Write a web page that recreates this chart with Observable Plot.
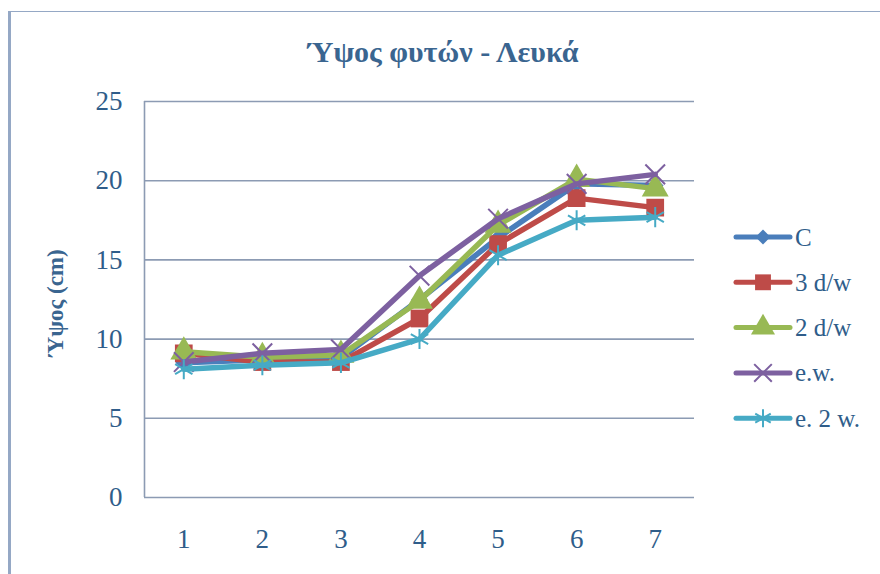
<!DOCTYPE html>
<html>
<head>
<meta charset="utf-8">
<script src="https://cdn.jsdelivr.net/npm/d3@7"></script>
<script src="https://cdn.jsdelivr.net/npm/@observablehq/plot@0.6"></script>
<style>
  html, body { margin: 0; padding: 0; background: #fff; }
  #wrap { position: relative; width: 880px; height: 574px; overflow: hidden; }
  #border { position: absolute; left: 8px; top: 11px; width: 900px; height: 600px; border-left: 3px solid #95a8c5; border-top: 1.5px solid #95a8c5; box-sizing: border-box; }
  .layer { position: absolute; left: 0; top: 0; }
</style>
</head>
<body>
<div id="wrap">
  <div id="border"></div>
  <div id="chart" class="layer"></div>
  <div id="overlay" class="layer"></div>
</div>
<script>
const weeks = [1, 2, 3, 4, 5, 6, 7];
const seriesNames = ["C", "3 d/w", "2 d/w", "e.w.", "e. 2 w."];
const C      = [8.5, 8.7, 8.8, 12.5, 16.4, 19.8, 19.7];
const d3w    = [9.1, 8.55, 8.55, 11.3, 16.0, 18.9, 18.3];
const d2w    = [9.2, 8.85, 9.0, 12.4, 17.2, 20.1, 19.5];
const ew     = [8.55, 9.1, 9.35, 14.0, 17.6, 19.8, 20.4];
const e2w    = [8.1, 8.35, 8.5, 10.0, 15.3, 17.5, 17.7];
const yTicks = [0, 5, 10, 15, 20, 25];
const titleText = "Ύψος φυτών - Λευκά";
const yLabelText = "Ύψος (cm)";

const colors = ["#4a7ebb", "#be4b48", "#98b954", "#7d60a0", "#46aac5"];
const symbols = ["diamond2", "square", "triangle", "times", "asterisk"];
const filled = [true, true, true, false, false];
const sizes = [7.5, 10, 10, 9, 9.5];
const allValues = [C, d3w, d2w, ew, e2w];
const FONT = "'Liberation Serif', 'DejaVu Serif', serif";

const marks = [
  Plot.ruleY(yTicks, {stroke: "#8c9bb3", strokeWidth: 1.6}),
  Plot.ruleX([0.5], {y1: 0, y2: 25, stroke: "#8c9bb3", strokeWidth: 1.6}),
  Plot.axisY({ticks: yTicks, tickSize: 0, tickPadding: 22, fontSize: 27, fill: "#2f5d8a", label: null, tickFormat: d3.format("d")}),
  Plot.axisX({ticks: weeks, tickSize: 0, tickPadding: 31, fontSize: 27, fill: "#2f5d8a", label: null, tickFormat: d3.format("d")})
];
seriesNames.forEach((name, i) => {
  const data = weeks.map((w, j) => ({week: w, value: allValues[i][j], series: name}));
  marks.push(Plot.line(data, {x: "week", y: "value", stroke: colors[i], strokeWidth: 5.5, strokeLinejoin: "round", strokeLinecap: "round"}));
  if (filled[i]) {
    marks.push(Plot.dot(data, {x: "week", y: "value", symbol: () => symbols[i], r: sizes[i], fill: colors[i], stroke: "none"}));
  } else {
    marks.push(Plot.dot(data, {x: "week", y: "value", symbol: () => symbols[i], r: sizes[i], stroke: colors[i], strokeWidth: 2, fill: "none"}));
  }
});

const chart = Plot.plot({
  width: 880,
  height: 574,
  marginLeft: 144,
  marginRight: 186,
  marginTop: 101,
  marginBottom: 77,
  style: {fontFamily: FONT, background: "transparent"},
  x: {type: "linear", domain: [0.5, 7.5]},
  y: {domain: [0, 25]},
  symbol: {type: "identity"},
  marks
});
document.getElementById("chart").appendChild(chart);

// Overlay SVG: title, y label, legend
const ov = d3.create("svg").attr("width", 880).attr("height", 574)
  .style("font-family", FONT).style("pointer-events", "none");
ov.append("text").attr("x", 443).attr("y", 62).attr("text-anchor", "middle")
  .attr("font-weight", "bold").attr("font-size", 30).attr("fill", "#3a6590").text(titleText);
ov.append("text").attr("transform", "translate(63,303) rotate(-90)").attr("text-anchor", "middle")
  .attr("font-weight", "bold").attr("font-size", 23).attr("fill", "#3a6590").text(yLabelText);

const symType = {diamond2: d3.symbolDiamond2, square: d3.symbolSquare, triangle: d3.symbolTriangle,
                 times: d3.symbolTimes, asterisk: d3.symbolAsterisk};
seriesNames.forEach((name, i) => {
  const g = ov.append("g").attr("transform", `translate(736,${237 + i * 45.3})`);
  g.append("line").attr("x1", 0).attr("x2", 54).attr("stroke", colors[i])
    .attr("stroke-width", 5).attr("stroke-linecap", "round");
  const p = g.append("path").attr("d", d3.symbol().type(symType[symbols[i]]).size(Math.PI * 0.8 * sizes[i] * sizes[i])())
    .attr("transform", "translate(27,0)");
  if (filled[i]) p.attr("fill", colors[i]);
  else p.attr("fill", "none").attr("stroke", colors[i]).attr("stroke-width", 2);
  g.append("text").attr("x", 59).attr("y", 8.5).attr("font-size", 25).attr("fill", "#2f5d8a").text(name);
});
document.getElementById("overlay").appendChild(ov.node());
</script>
</body>
</html>
